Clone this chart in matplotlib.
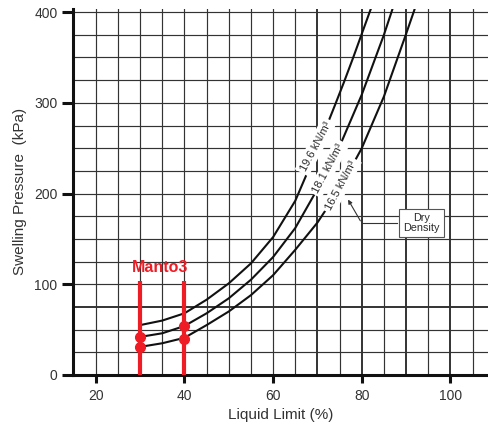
import matplotlib
matplotlib.use("Agg")
import matplotlib.pyplot as plt
from matplotlib.patches import FancyArrowPatch

plt.rcParams['font.family'] = ['Liberation Sans', 'DejaVu Sans']

# Swelling pressure curves for three dry densities (liquid limit %, kPa)
ll_196 = [30, 35, 40, 45, 50, 55, 60, 65, 70, 74, 76, 78, 80, 82, 82.4]
p_196 = [55, 60, 68, 83, 101, 123, 152, 192, 249, 298, 323, 349, 376, 403, 408]

ll_181 = [30, 35, 40, 45, 50, 55, 60, 65, 70, 75, 80, 85, 86.7, 87.1]
p_181 = [42, 46, 54, 68, 84.5, 105, 130, 162, 205, 252, 309, 375, 400, 406]

ll_165 = [30, 35, 40, 45, 50, 55, 60, 65, 70, 75, 80, 85, 90, 91.7, 92.1]
p_165 = [31, 35, 41, 55, 70, 88, 110, 138, 168, 205, 250, 307, 376, 400, 406]

curve_labels = ["19.6 kN/m³", "18.1 kN/m³", "16.5 kN/m³"]
label_ll = [69.6, 72.5, 75.3]
label_p = [252, 228, 209]

# Manto3 samples
manto_ll = [30, 40]
manto_top = [104, 104]
manto_pts_ll = [30, 30, 40, 40]
manto_pts_p = [42, 31, 54, 40]

x_ticks = [20, 40, 60, 80, 100]
y_ticks = [0, 100, 200, 300, 400]

W, H = 489, 425
fig = plt.figure(figsize=(W / 100, H / 100), dpi=100)
ax = fig.add_axes([72.7 / W, 1 - 375 / H, (W - 72.7) / W, (375 - 8.5) / H])
ax.set_xlim(14.8, 108.7)
ax.set_ylim(0, 404)

grid_c = '#333333'
for gx in range(20, 110, 5):
    lw = 1.4 if gx in (70, 80, 90, 100) else 0.85
    ax.axvline(gx, color=grid_c, lw=lw, zorder=1)
for gy in range(25, 425, 25):
    lw = 1.4 if gy == 75 else 0.85
    ax.axhline(gy, color=grid_c, lw=lw, zorder=1)

for xs, ys in [(ll_196, p_196), (ll_181, p_181), (ll_165, p_165)]:
    ax.plot(xs, ys, color='#111111', lw=1.5, zorder=2, solid_capstyle='round',
            solid_joinstyle='round')

for txt, lx, ly in zip(curve_labels, label_ll, label_p):
    ax.text(lx, ly, txt, rotation=62, ha='center', va='center', fontsize=8,
            color='#2a2a2a', rotation_mode='anchor', zorder=4,
            bbox=dict(boxstyle='square,pad=0.25', fc='white', ec='none'))

# Dry density callout
ax.text(93.5, 167.5, "Dry\nDensity", ha='center', va='center', fontsize=7.8,
        color='#2a2a2a', linespacing=1.0, zorder=5,
        bbox=dict(boxstyle='square,pad=0.4', fc='white', ec='#555555', lw=0.8))
ax.plot([88.0, 80.0], [167.3, 167.3], color='#333333', lw=0.8, zorder=5)
ax.add_patch(FancyArrowPatch((80.0, 167.3), (76.6, 196.0), arrowstyle='-|>',
                             mutation_scale=6, color='#333333', lw=0.8, zorder=5))

# Manto3 markers
red = '#ee1c25'
ax.vlines(manto_ll, 0, manto_top, color=red, lw=3.0, zorder=6)
ax.plot(manto_pts_ll, manto_pts_p, 'o', color=red, ms=7, zorder=7)
ax.text(34.5, 119, "Manto3", color=red, fontsize=11.5, fontweight='bold',
        ha='center', va='center', zorder=7)

for s in ['top', 'right']:
    ax.spines[s].set_visible(False)
for s in ['left', 'bottom']:
    ax.spines[s].set_linewidth(2.2)
    ax.spines[s].set_color('#111111')
    ax.spines[s].set_zorder(5)

ax.set_xticks(x_ticks)
ax.set_yticks(y_ticks)
ax.tick_params(axis='x', length=6, width=2.2, color='#111111', labelsize=10,
               labelcolor='#333333', pad=4)
ax.tick_params(axis='y', length=8, width=2.2, color='#111111', labelsize=10,
               labelcolor='#333333', pad=3)

ax.set_xlabel("Liquid Limit (%)", fontsize=11, color='#333333', labelpad=4)
ax.set_ylabel("Swelling Pressure  (kPa)", fontsize=11, color='#333333', labelpad=5)

fig.savefig("out.png", dpi=100)
